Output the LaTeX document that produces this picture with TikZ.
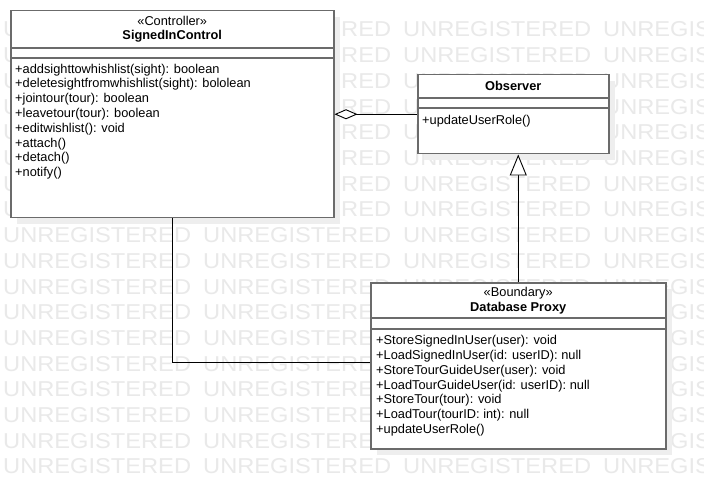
\documentclass[tikz,border=0pt]{standalone}
\usepackage{fontspec}
\setmainfont{Liberation Sans}
\usepackage{xcolor}
\usepackage{tikz}
\usetikzlibrary{positioning, arrows.meta, shadows}
\definecolor{boxgray}{HTML}{6B6B6B}
\definecolor{markgray}{HTML}{E9E9E9}
\definecolor{shadowgray}{HTML}{EEEEEE}

\begin{document}
\begin{tikzpicture}[x=1pt, y=-1pt,
    umlclass/.style={draw=boxgray, line width=1.5pt, fill=white, anchor=north west, inner sep=0pt,
      copy shadow={shadow xshift=6pt, shadow yshift=-6pt, fill=shadowgray, draw=none, opacity=1}},
    umlsep/.style={draw=boxgray, line width=1.5pt},
    umltext/.style={font=\fontsize{12.8}{14.8}\selectfont, inner sep=0pt},
    wmark/.style={text=markgray, font=\fontsize{21.5}{21.5}\selectfont, inner sep=0pt, anchor=base west},
    link/.style={draw=black, line width=0.9pt}]
  \clip (0,0) rectangle (704,489);
  \fill[white] (0,0) rectangle (704,489);

  % watermark rows
  \foreach \r in {0,...,17}
    \foreach \c in {0,...,3}
      \node[wmark] (mark-\r-\c) at (3+200*\c, 37+25.7*\r) {\scalebox{1.1}[1]{UNREGISTERED}};

  % SignedInControl
  \node[umlclass, minimum width=323pt, minimum height=207pt] (ctrl) at (10,10) {};
  \draw[umlsep] ([yshift=-38pt]ctrl.north west) -- ([yshift=-38pt]ctrl.north east);
  \draw[umlsep] ([yshift=-48pt]ctrl.north west) -- ([yshift=-48pt]ctrl.north east);
  \node[umltext, anchor=north, align=center] (ctrl-head) at ([yshift=-5.7pt]ctrl.north)
    {«Controller»\\\textbf{SignedInControl}};
  \node[umltext, anchor=north west, align=left] (ctrl-ops) at (15,63.6) {%
    +addsighttowhishlist(sight): boolean\\
    +deletesightfromwhishlist(sight): bololean\\
    +jointour(tour): boolean\\
    +leavetour(tour): boolean\\
    +editwishlist(): void\\
    +attach()\\
    +detach()\\
    +notify()};

  % Observer
  \node[umlclass, minimum width=191pt, minimum height=79pt] (obs) at (417,74) {};
  \draw[umlsep] ([yshift=-24pt]obs.north west) -- ([yshift=-24pt]obs.north east);
  \draw[umlsep] ([yshift=-34pt]obs.north west) -- ([yshift=-34pt]obs.north east);
  \node[umltext, anchor=north] (obs-head) at ([yshift=-7.5pt]obs.north) {\textbf{Observer}};
  \node[umltext, anchor=north west] (obs-ops) at (422,114.7) {+updateUserRole()};

  % Database Proxy
  \node[umlclass, minimum width=295pt, minimum height=166pt] (db) at (370,282) {};
  \draw[umlsep] ([yshift=-36pt]db.north west) -- ([yshift=-36pt]db.north east);
  \draw[umlsep] ([yshift=-47pt]db.north west) -- ([yshift=-47pt]db.north east);
  \node[umltext, anchor=north, align=center] (db-head) at ([yshift=-5.4pt]db.north)
    {«Boundary»\\\textbf{Database Proxy}};
  \node[umltext, anchor=north west, align=left] (db-ops) at (376,335.2) {%
    +StoreSignedInUser(user): void\\
    +LoadSignedInUser(id: userID): null\\
    +StoreTourGuideUser(user): void\\
    +LoadTourGuideUser(id: userID): null\\
    +StoreTour(tour): void\\
    +LoadTour(tourID: int): null\\
    +updateUserRole()};

  % connectors
  \draw[link, {Diamond[open, fill=white, length=23pt, width=10pt]}-] (ctrl.east |- obs.west) -- (obs.west);
  \draw[link, -{Triangle[open, fill=white, length=21pt, width=17pt]}] (db.north) -- (db.north |- obs.south);
  \draw[link] (ctrl.south) |- ([yshift=3pt]db.west);
\end{tikzpicture}
\end{document}
